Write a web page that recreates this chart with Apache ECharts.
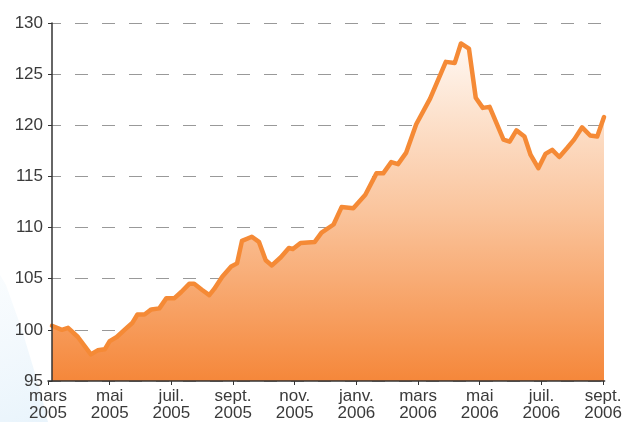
<!DOCTYPE html>
<html>
<head>
<meta charset="utf-8">
<script src="https://cdn.jsdelivr.net/npm/echarts@6/dist/echarts.min.js"></script>
<style>
html,body{margin:0;padding:0;background:#fff;}
#chart{width:625px;height:422px;}
</style>
</head>
<body>
<div id="chart"></div>
<script>
// x positions in months since 1 March 2005
const monthPos = [0.13,0.45,0.65,0.97,1.39,1.61,1.84,2.00,2.23,2.48,2.74,2.90,3.13,3.35,3.61,3.84,4.10,4.32,4.58,4.74,5.00,5.23,5.39,5.65,5.94,6.13,6.29,6.61,6.84,7.06,7.26,7.55,7.81,7.94,8.19,8.65,8.87,9.26,9.52,9.90,10.29,10.65,10.87,11.13,11.35,11.61,11.94,12.39,12.90,13.19,13.39,13.65,13.87,14.10,14.32,14.77,14.97,15.19,15.45,15.65,15.90,16.13,16.35,16.58,16.84,17.06,17.32,17.58,17.81,18.03];
const values = [100.4,100.0,100.2,99.3,97.6,98.0,98.1,98.9,99.3,100.0,100.7,101.5,101.5,102.0,102.1,103.1,103.1,103.7,104.5,104.5,103.9,103.4,104.0,105.2,106.2,106.5,108.7,109.1,108.6,106.8,106.3,107.1,108.0,107.9,108.5,108.6,109.5,110.3,112.0,111.9,113.2,115.3,115.3,116.4,116.2,117.3,120.1,122.6,126.2,126.1,128.0,127.5,122.7,121.7,121.8,118.6,118.4,119.5,118.9,117.1,115.8,117.2,117.6,116.9,117.8,118.6,119.8,119.0,118.9,120.8];
// tick labels every 2 months starting March 2005
const tickLabels = ['mars\n2005','mai\n2005','juil.\n2005','sept.\n2005','nov.\n2005','janv.\n2006','mars\n2006','mai\n2006','juil.\n2006','sept.\n2006'];
const yTicks = [95,100,105,110,115,120,125,130];

const data = monthPos.map((m,i)=>[m, values[i]]);
const chart = echarts.init(document.getElementById('chart'), null, {renderer:'canvas'});
const font = 'Liberation Sans';
const yMin = yTicks[0], yMax = yTicks[yTicks.length-1];
chart.setOption({
  backgroundColor:'#ffffff',
  animation:false,
  graphic:[{
    type:'polygon', z:-10, silent:true,
    shape:{points:[[0,275],[6,285],[22,330],[40,390],[48,422],[0,422]]},
    style:{fill:new echarts.graphic.LinearGradient(0,0,1,1,[{offset:0,color:'rgba(225,240,250,0.2)'},{offset:1,color:'rgba(215,235,249,0.55)'}])}
  }],
  grid:{left:48,right:17.5,top:23,bottom:41,containLabel:false},
  xAxis:{
    type:'value', min:0, max:18.05, interval:2, z:10,
    axisLine:{show:true,onZero:false,lineStyle:{color:'#333',width:1.5}},
    axisTick:{show:true,length:4,inside:false,lineStyle:{color:'#333',width:1}},
    splitLine:{show:false},
    axisLabel:{
      show:true, margin:7, color:'#3a3a3a', fontFamily:font, fontSize:17, lineHeight:17,
      showMaxLabel:false,
      formatter:function(v){const k=Math.round(v/2); return (Math.abs(v-2*k)<1e-6 && k<tickLabels.length)?tickLabels[k]:'';}
    }
  },
  yAxis:[{
    type:'value', min:yMin, max:yMax, interval:5, offset:-4, z:0,
    axisLine:{show:false}, axisTick:{show:false}, axisLabel:{show:false},
    splitLine:{show:true,lineStyle:{color:'#999999',width:1.2,type:[13,14]}}
  },{
    type:'value', position:'left', min:yMin, max:yMax, interval:5, offset:-4, z:10,
    axisLine:{show:true,lineStyle:{color:'#333',width:1.5}},
    axisTick:{show:true,length:4,lineStyle:{color:'#333',width:1}},
    axisLabel:{color:'#3a3a3a',fontFamily:font,fontSize:17,margin:9},
    splitLine:{show:false}
  }],
  series:[{
    type:'line', data:data, symbol:'none', smooth:false, yAxisIndex:0,
    lineStyle:{color:'#f58a36',width:4.5,join:'round',cap:'round'},
    areaStyle:{origin:'start',opacity:1,color:new echarts.graphic.LinearGradient(0,0,0,1,[
      {offset:0,color:'#fff8f2'},
      {offset:0.5,color:'#fac49c'},
      {offset:1,color:'#f5873a'}
    ])},
    z:3
  }]
});
</script>
</body>
</html>
